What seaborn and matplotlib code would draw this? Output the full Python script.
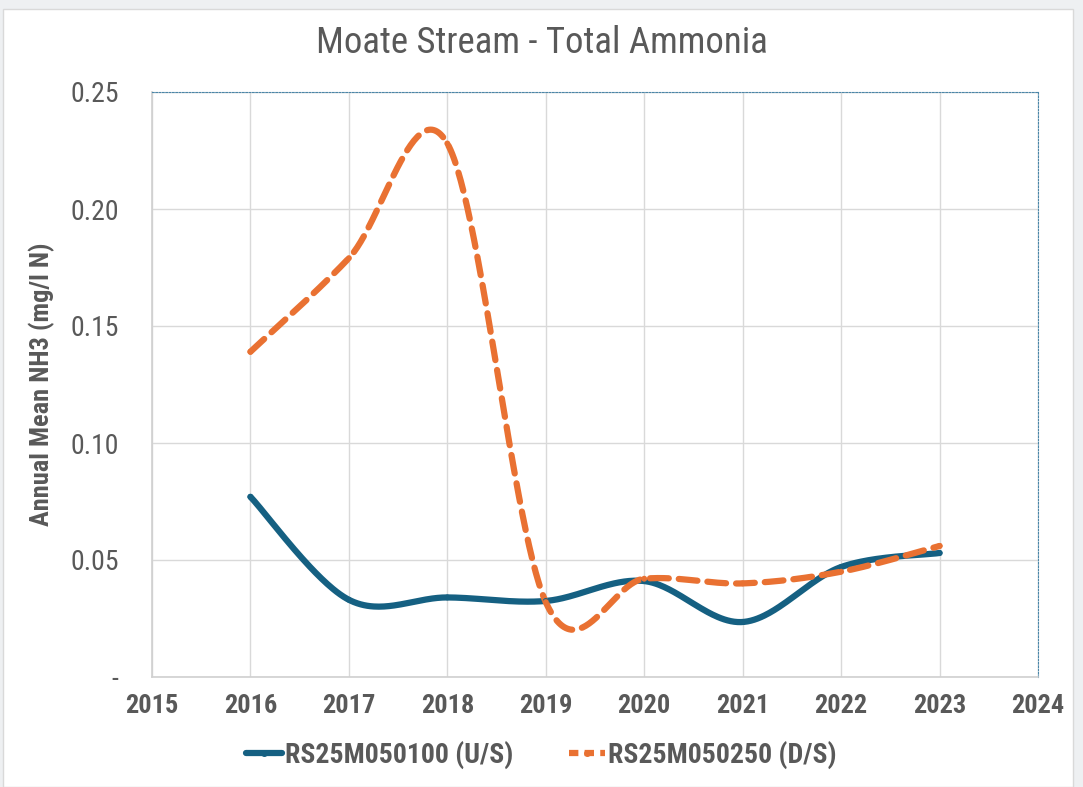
import numpy as np
import pandas as pd
import matplotlib
matplotlib.use("Agg")
import matplotlib.pyplot as plt
import seaborn as sns
from matplotlib.patches import Rectangle
from matplotlib.lines import Line2D

years = [2016, 2017, 2018, 2019, 2020, 2021, 2022, 2023]
us_values = [0.077, 0.033, 0.034, 0.0325, 0.041, 0.0235, 0.047, 0.053]
ds_values = [0.139, 0.179, 0.228, 0.032, 0.042, 0.040, 0.045, 0.056]
series_names = ["RS25M050100 (U/S)", "RS25M050250 (D/S)"]
x_ticks = list(range(2015, 2025))
y_ticks = [0.0, 0.05, 0.10, 0.15, 0.20, 0.25]
y_tick_labels = ["-", "0.05", "0.10", "0.15", "0.20", "0.25"]
title = "Moate Stream - Total Ammonia"
y_label = "Annual Mean NH3 (mg/l N)"

BLUE = "#156082"
ORANGE = "#E97132"
TXT = "#595959"


def excel_smooth(xs, ys, n=60):
    """Bezier smoothing as used for 'smoothed line' charts (drawing only)."""
    P = np.column_stack([xs, ys]).astype(float)
    m = len(P)
    out = []
    for i in range(m - 1):
        p0 = P[i - 1] if i > 0 else P[i]
        p1, p2 = P[i], P[i + 1]
        p3 = P[i + 2] if i + 2 < m else P[i + 1]
        c1 = p1 + (p2 - p0) / 6.0
        c2 = p2 - (p3 - p1) / 6.0
        t = np.linspace(0, 1, n)[:, None]
        seg = ((1 - t) ** 3) * p1 + 3 * ((1 - t) ** 2) * t * c1 + 3 * (1 - t) * t ** 2 * c2 + t ** 3 * p2
        out.append(seg if i == 0 else seg[1:])
    arr = np.vstack(out)
    return arr[:, 0], arr[:, 1]


sns.set_theme(style="white")
narrow = ["Roboto Condensed", "Liberation Sans Narrow", "Liberation Sans", "DejaVu Sans"]
plt.rcParams["font.family"] = narrow

fig = plt.figure(figsize=(10.83, 7.87), dpi=100)
fig.patch.set_facecolor("#eef0f2")
bg = Rectangle((3 / 1083, 0), 1070 / 1083, 778 / 787, transform=fig.transFigure,
               facecolor="white", edgecolor="#d9d9d9", lw=1, zorder=-10)
fig.patches.append(bg)

ax = fig.add_axes([152 / 1083, 1 - 677 / 787, (1038 - 152) / 1083, (677 - 92) / 787])
ax.set_zorder(1)
ax.set_facecolor("none")

ux, uy = excel_smooth(years, us_values)
dx, dy = excel_smooth(years, ds_values)

sns.lineplot(x=ux, y=uy, ax=ax, color=BLUE, lw=4.5, sort=False, estimator=None, zorder=3)
ax.lines[-1].set_solid_capstyle("round")
sns.lineplot(x=dx, y=dy, ax=ax, color=ORANGE, lw=4.5, sort=False, estimator=None, zorder=4)
ax.lines[-1].set_dashes([3, 1.6])
ax.lines[-1].set_dash_capstyle("round")
sns.scatterplot(x=years, y=us_values, ax=ax, color=BLUE, s=18, edgecolor="none", zorder=5)
sns.scatterplot(x=years, y=ds_values, ax=ax, color=ORANGE, s=18, edgecolor="none", zorder=5)

ax.set_xlim(2015, 2024)
ax.set_ylim(0, 0.25)
ax.set_xticks(x_ticks)
ax.set_xticklabels([str(v) for v in x_ticks], fontsize=19, fontweight="bold", color=TXT)
ax.set_yticks(y_ticks)
ax.set_yticklabels(y_tick_labels, fontsize=20, color=TXT)
ax.tick_params(axis="x", pad=12, length=0)
ax.tick_params(axis="y", pad=24, length=0)
ax.grid(True, color="#d9d9d9", lw=1)
ax.set_axisbelow(True)

for s in ["left", "bottom"]:
    ax.spines[s].set_color("#d0d0d0")
    ax.spines[s].set_linewidth(1.2)
for s in ["top", "right"]:
    ax.spines[s].set_color("#4a86a8")
    ax.spines[s].set_linewidth(0.8)
    ax.spines[s].set_linestyle((0, (1.5, 1.5)))

ax.set_ylabel(y_label, fontsize=19, fontweight="bold", color=TXT)
ax.yaxis.set_label_coords((55 - 152) / 886, 0.5)
fig.text(0.5, 1 - 43 / 787, title, ha="center", va="center", fontsize=26.5, color=TXT)

handles = [Line2D([], [], color=BLUE, lw=4.5, marker="o", markersize=4),
           Line2D([], [], color=ORANGE, lw=4.5, dashes=[1.5, 1], marker="o", markersize=4)]
fig.legend(handles, series_names, loc="center", bbox_to_anchor=(0.5, 1 - 755 / 787), ncol=2,
           frameon=False, handlelength=1.3, handletextpad=0.1, columnspacing=2.0,
           prop={"family": narrow, "weight": "bold", "size": 20}, labelcolor=TXT)

fig.savefig("out.png", dpi=100, facecolor=fig.get_facecolor())
